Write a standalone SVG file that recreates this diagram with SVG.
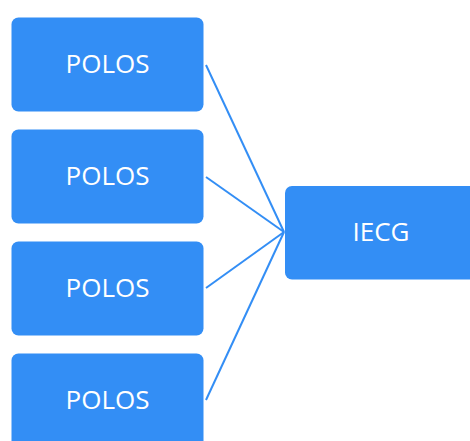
<svg xmlns="http://www.w3.org/2000/svg" width="470" height="441" viewBox="0 0 470 441">
<style>
.box{fill:#338ef5;}
.lbl{fill:#ffffff;font-family:"Open Sans","Noto Sans",sans-serif;font-size:26px;text-anchor:middle;dominant-baseline:central;}
.con{stroke:#338ef5;stroke-width:2;fill:none;}
</style>
<rect width="470" height="441" fill="#ffffff"/>
<g id="connectors">
<line class="con" x1="206" y1="65" x2="284" y2="232"/>
<line class="con" x1="206" y1="177" x2="284" y2="232"/>
<line class="con" x1="206" y1="288" x2="284" y2="232"/>
<line class="con" x1="206" y1="400" x2="284" y2="232"/>
</g>
<g id="polos1"><rect class="box" x="11.5" y="17.5" width="192" height="94" rx="7"/><text class="lbl" x="107.5" y="63">POLOS</text></g>
<g id="polos2"><rect class="box" x="11.5" y="129.5" width="192" height="94" rx="7"/><text class="lbl" x="107.5" y="175">POLOS</text></g>
<g id="polos3"><rect class="box" x="11.5" y="241.5" width="192" height="94" rx="7"/><text class="lbl" x="107.5" y="287">POLOS</text></g>
<g id="polos4"><rect class="box" x="11.5" y="353.5" width="192" height="94" rx="7"/><text class="lbl" x="107.5" y="399">POLOS</text></g>
<g id="iecg"><rect class="box" x="285" y="186" width="192" height="93.5" rx="7"/><text class="lbl" x="381" y="231">IECG</text></g>
</svg>
